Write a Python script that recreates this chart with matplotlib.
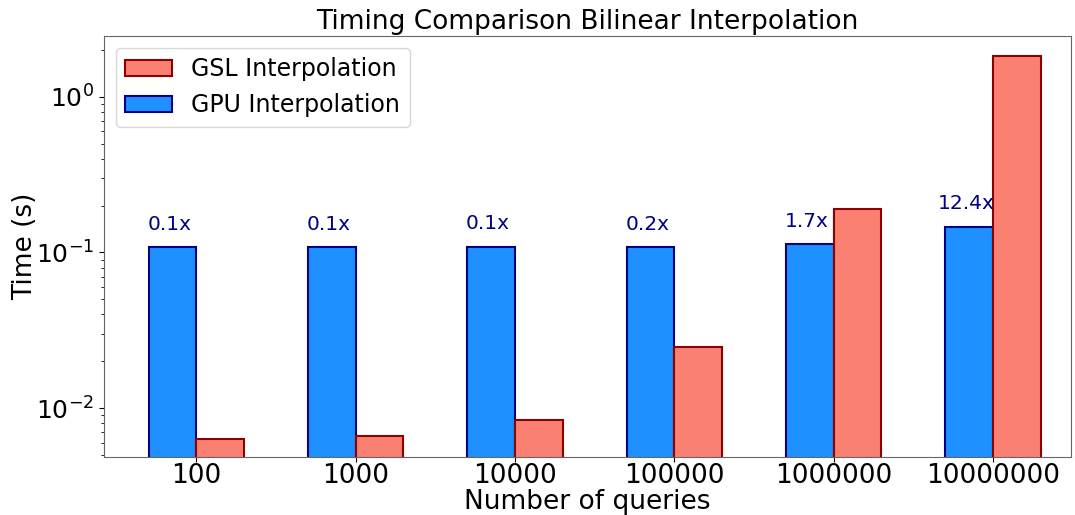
import numpy as np
import matplotlib.pyplot as plt

# timings in seconds for each query count
queries = ["100", "1000", "10000", "100000", "1000000", "10000000"]
gpu_times = [0.108, 0.108, 0.109, 0.108, 0.113, 0.146]
gsl_times = [0.0064, 0.0066, 0.0084, 0.0246, 0.190, 1.81]

x = np.arange(len(queries))
w = 0.3

fig = plt.figure(figsize=(10.75, 5.15), dpi=100)
ax = fig.add_axes([104 / 1075, 58 / 515, (1071 - 104) / 1075, (457 - 36) / 515])

gpu_bars = ax.bar(x - w / 2, gpu_times, w, color="dodgerblue", edgecolor="navy",
                  linewidth=1.5, label="GPU Interpolation")
gsl_bars = ax.bar(x + w / 2, gsl_times, w, color="salmon", edgecolor="darkred",
                  linewidth=1.5, label="GSL Interpolation")
ax.set_yscale("log")
ax.set_ylim(0.00487, 2.45)
ax.set_xlim(-0.58, 5.49)

# speedup of GPU over GSL above each blue bar
for xi, g, s in zip(x, gpu_times, gsl_times):
    ax.text(xi - w / 2 - 0.02, g * 1.22, f"{s / g:.1f}x", ha="center", va="bottom",
            color="navy", fontsize=14.5)

ax.set_xticks(x)
ax.set_xticklabels(queries)
ax.tick_params(axis="x", labelsize=19, pad=1)
ax.tick_params(axis="y", labelsize=18)
ax.set_xlabel("Number of queries", fontsize=19, labelpad=0)
ax.set_ylabel("Time (s)", fontsize=19)
ax.yaxis.set_label_coords(-0.068, 0.5)
ax.set_title("Timing Comparison Bilinear Interpolation", fontsize=19, pad=5)
for sp in ax.spines.values():
    sp.set_color("#666666")

ax.legend(handles=[gsl_bars, gpu_bars], loc="upper left", fontsize=17)

fig.savefig("out.png")
